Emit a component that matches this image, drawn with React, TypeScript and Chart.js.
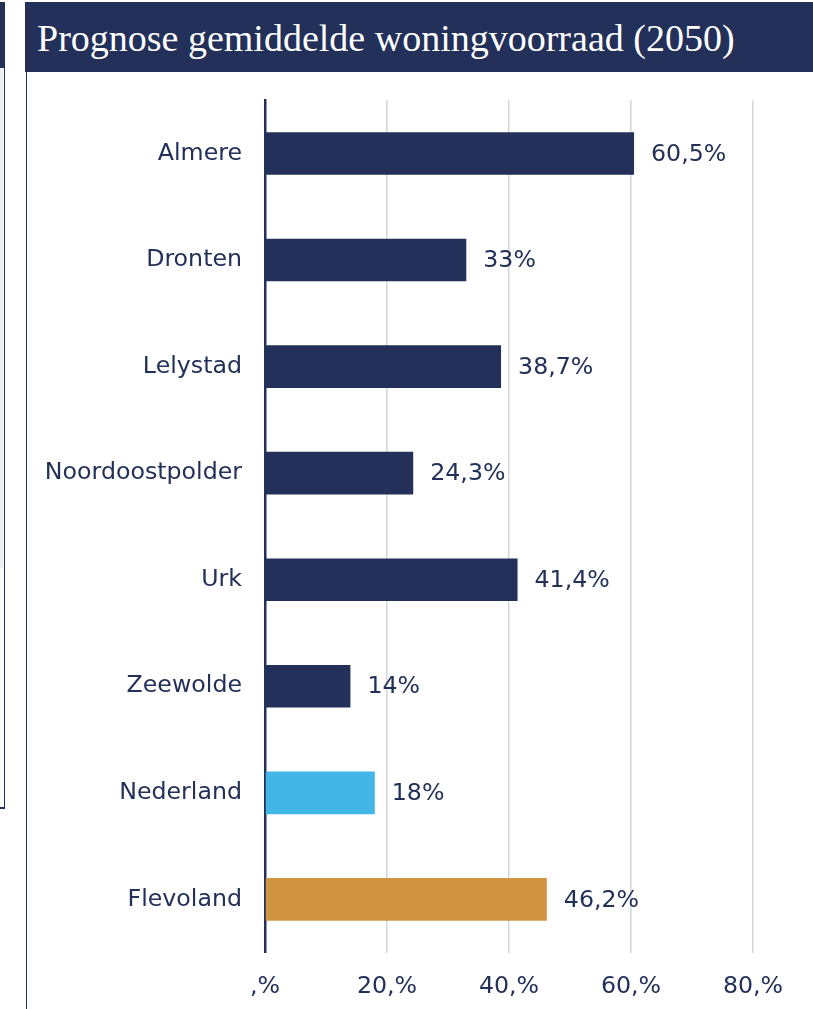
import React, { useEffect, useRef } from "react";
import { Chart, registerables } from "chart.js";

Chart.register(...registerables);

const TITLE = "Prognose gemiddelde woningvoorraad (2050)";
const categories = [
  "Almere",
  "Dronten",
  "Lelystad",
  "Noordoostpolder",
  "Urk",
  "Zeewolde",
  "Nederland",
  "Flevoland",
];
const values = [60.5, 33, 38.7, 24.3, 41.4, 14, 18, 46.2];
const barColors = [
  "#22305a",
  "#22305a",
  "#22305a",
  "#22305a",
  "#22305a",
  "#22305a",
  "#42b6e6",
  "#d19443",
];
const xMin = 0;
const xMax = 80;
const xStep = 20;

const NAVY = "#22305a";
const FONT = "'DejaVu Sans', Verdana, sans-serif";
const FONT_SIZE = 23.7;

const fmtValue = (v: number) => `${String(v).replace(".", ",")}%`;
const fmtTick = (v: number) => `${v === 0 ? "" : v},%`;

const valueLabels = {
  id: "valueLabels",
  afterDatasetsDraw(chart: any) {
    const ctx = chart.ctx;
    const meta = chart.getDatasetMeta(0);
    ctx.save();
    ctx.font = `${FONT_SIZE}px ${FONT}`;
    ctx.fillStyle = NAVY;
    ctx.textAlign = "left";
    ctx.textBaseline = "middle";
    meta.data.forEach((el: any, i: number) => {
      const v = chart.data.datasets[0].data[i] as number;
      ctx.fillText(fmtValue(v), el.x + 17, el.y + 1);
    });
    ctx.restore();
  },
};

export default function App() {
  const ref = useRef<HTMLCanvasElement | null>(null);

  useEffect(() => {
    if (!ref.current) return;
    const chart = new Chart(ref.current, {
      type: "bar",
      data: {
        labels: categories,
        datasets: [
          {
            data: values,
            backgroundColor: barColors,
            borderWidth: 0,
            barPercentage: 0.4,
            categoryPercentage: 1,
          },
        ],
      },
      options: {
        indexAxis: "y",
        animation: false,
        responsive: false,
        maintainAspectRatio: false,
        devicePixelRatio: 1,
        layout: { padding: { top: 0, right: 60, left: 0, bottom: 0 } },
        plugins: {
          legend: { display: false },
          tooltip: { enabled: false },
        },
        scales: {
          x: {
            min: xMin,
            max: xMax,
            ticks: {
              stepSize: xStep,
              callback: (v: any) => fmtTick(Number(v)),
              color: NAVY,
              font: { family: FONT, size: FONT_SIZE },
              padding: 20,
              maxRotation: 0,
            },
            grid: { color: "#d2d5db", lineWidth: 1.5, drawTicks: false },
            border: { display: false },
            afterFit: (scale: any) => {
              scale.height = 56.3;
            },
          },
          y: {
            ticks: {
              color: NAVY,
              font: { family: FONT, size: FONT_SIZE },
              padding: 23,
            },
            grid: { display: false, drawTicks: false },
            border: { display: true, color: NAVY, width: 2.5 },
            afterFit: (scale: any) => {
              scale.width = 238;
            },
          },
        },
      },
      plugins: [valueLabels],
    });
    return () => chart.destroy();
  }, []);

  return (
    <div
      style={{
        position: "absolute",
        left: 0,
        top: 0,
        width: 813,
        height: 1009,
        overflow: "hidden",
        background: "#ffffff",
      }}
    >
      {/* left neighbouring panel fragment */}
      <div
        style={{
          position: "absolute",
          left: 0,
          top: 2,
          width: 5,
          height: 66,
          background: NAVY,
        }}
      />
      <div
        style={{
          position: "absolute",
          left: 0,
          top: 68,
          width: 3,
          height: 500,
          background: "#eceef0",
        }}
      />
      <div
        style={{
          position: "absolute",
          left: 3.5,
          top: 68,
          width: 1.5,
          height: 741,
          background: NAVY,
        }}
      />
      <div
        style={{
          position: "absolute",
          left: 0,
          top: 807,
          width: 5,
          height: 1.5,
          background: NAVY,
        }}
      />
      {/* main panel */}
      <div
        style={{
          position: "absolute",
          left: 25.5,
          top: 72,
          width: 1.5,
          height: 937,
          background: NAVY,
        }}
      />
      <canvas
        ref={ref}
        width={786}
        height={946}
        style={{ position: "absolute", left: 27, top: 63, width: 786, height: 946 }}
      />
      <div
        style={{
          position: "absolute",
          left: 25,
          top: 2,
          width: 788,
          height: 70,
          background: NAVY,
          color: "#ffffff",
          fontFamily: "'Liberation Serif', 'DejaVu Serif', serif",
          fontSize: 38,
          lineHeight: "72px",
          paddingLeft: 12,
          boxSizing: "border-box",
          whiteSpace: "nowrap",
        }}
      >
        {TITLE}
      </div>
    </div>
  );
}
